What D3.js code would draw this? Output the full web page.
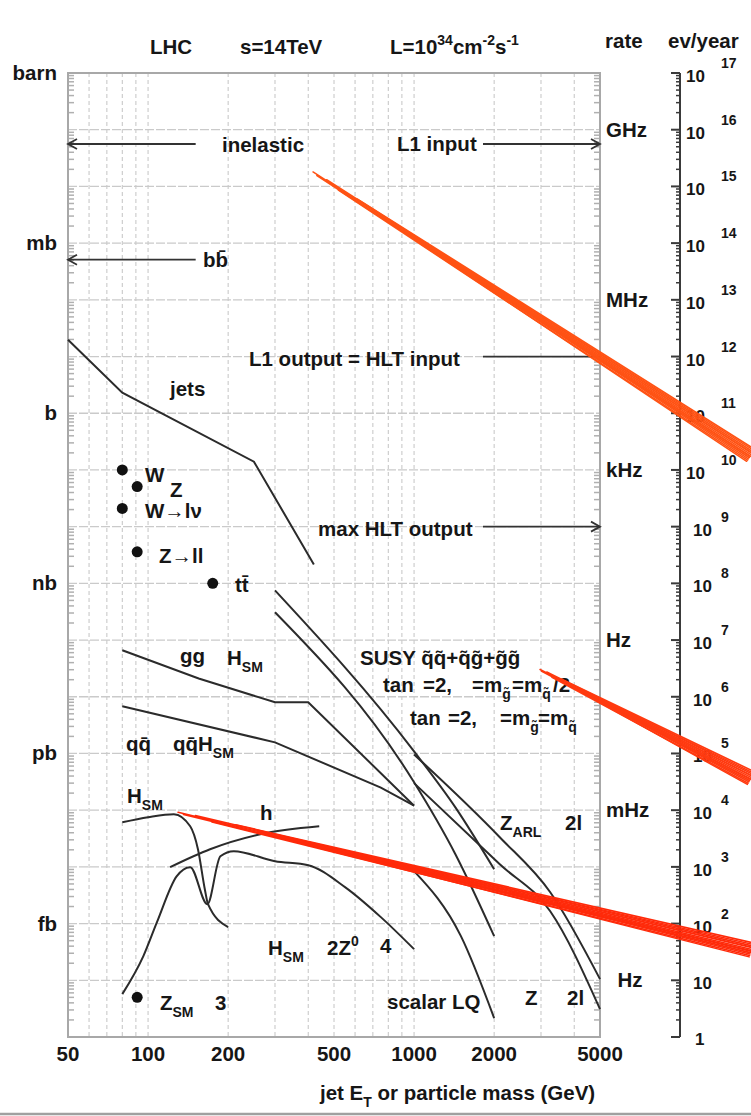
<!DOCTYPE html>
<html>
<head>
<meta charset="utf-8">
<script src="https://cdn.jsdelivr.net/npm/d3@7"></script>
<style>
  body { margin: 0; background: #fff; }
  svg text { font-family: "Liberation Sans", Arial, sans-serif; font-weight: bold; font-size: 20.5px; fill: #161616; }
</style>
</head>
<body>
<svg id="chart" width="751" height="1116"></svg>
<script>
// ---- axes: jet E_T / particle mass (GeV) vs cross section (fb) ----
const massTicks = [50, 100, 200, 500, 1000, 2000, 5000];
const crossUnits = [["barn", 1e15], ["mb", 1e12], ["b", 1e9], ["nb", 1e6], ["pb", 1e3], ["fb", 1]];
const rateUnits = [["GHz", 1e14], ["MHz", 1e11], ["kHz", 1e8], ["Hz", 1e5], ["mHz", 1e2], ["\u00a0\u00a0Hz", 1e-1]];
const evExponents = d3.range(0, 18);

// ---- cross-section curves: [mass GeV, sigma fb] ----
const jets      = [[50, 1.98e10], [80, 2.3e9], [250, 1.4e8], [420, 2.15e6]];
const ggHiggs   = [[80, 6.6e4], [155, 2.1e4], [300, 8.0e3], [400, 8.0e3], [1000, 1.2e2]];
const qqHiggs   = [[80, 6.8e3], [300, 1.57e3], [750, 2.5e2], [1000, 1.2e2]];
const susyHalf  = [[300, 7.5e5], [1000, 1.09e3], [1430, 1.12e2], [2000, 9.1]];
const susyEqual = [[300, 3.1e5], [1000, 3.1e2], [1430, 16.7], [2000, 0.60]];
const zArl2l    = [[1000, 9.6e2], [2100, 33.3], [3250, 3.57], [5000, 0.105]];
const zPrime2l  = [[1000, 3.0e2], [2100, 11.1], [3250, 1.65], [5000, 0.031]];
const scalarLQ  = [[1000, 8.4], [1500, 0.60], [2000, 0.0215]];
const hsmGamma  = [[80, 61], [100, 75], [125, 85], [144, 52], [154, 20.5], [163.5, 4.0], [168, 2.2], [200, 0.865]];
const hsm4l     = [[80, 0.057], [96, 0.267], [108, 1.06], [128, 6.8], [144, 9.9], [167, 2.2], [187, 15.4],
                   [210, 18.9], [300, 12.6], [400, 10.7], [550, 4.4], [750, 1.3], [1000, 0.354]];
const hMssm     = [[121, 9.9], [171, 20.5], [264, 37.6], [440, 52]];

// ---- single processes: [mass GeV, sigma fb] ----
const wBoson   = [80, 1.0e8];
const zBoson   = [91, 5.1e7];
const wLepton  = [80, 2.1e7];
const zLepton  = [91, 3.6e6];
const topPair  = [175, 1.0e6];
const zSm3     = [91, 0.05];

// ---- horizontal markers: [from GeV, to GeV, sigma fb, arrowhead] ----
const markers = [
  [151, 50, 5.6e13, true],     // inelastic
  [151, 50, 5.1e11, true],     // b b-bar
  [1816, 5000, 5.6e13, true],  // L1 input
  [1816, 5000, 1e10, false],   // L1 output = HLT input
  [1816, 5000, 1e7, true]      // max HLT output
];

// ---- hand-drawn trigger bands: [[GeV, fb], [GeV, fb]] ----
const bands = [
  [[417, 1.8e13], [18480, 1.86e8]],
  [[2976, 3.03e4], [18480, 379]],
  [[129.6, 91.8], [18480, 0.354]]
];
const bandColors = ["#ff5214", "#ff3a10", "#ff2a0a"];

const svg = d3.select("#chart");
const xSc = d3.scaleLog().domain([50, 5000]).range([68, 600]);
const ySc = d3.scaleLog().domain([1e-2, 1e15]).range([1037, 73]);
const evSc = d3.scaleLog().domain([1, 1e17]).range([1037, 73]);
const [xL, xR] = xSc.range();
const [yB, yT] = ySc.range();

// grid
const gGrid = svg.append("g");
gGrid.selectAll("line.v").data(xSc.ticks().filter(v => v > 50 && v < 5000)).join("line")
  .attr("x1", d => xSc(d)).attr("x2", d => xSc(d)).attr("y1", yT).attr("y2", yB)
  .attr("stroke", "#c4c4c4").attr("stroke-width", 1).attr("stroke-dasharray", "4,3");
gGrid.selectAll("line.h").data(d3.range(-1, 15).map(e => Math.pow(10, e))).join("line")
  .attr("x1", xL).attr("x2", xR).attr("y1", d => ySc(d)).attr("y2", d => ySc(d))
  .attr("stroke", "#cacaca").attr("stroke-width", 1.3).attr("stroke-dasharray", "9,2");

// minor ticks along left and right frame
const minorY = [];
d3.range(-2, 15).forEach(e => d3.range(2, 10).forEach(k => minorY.push(k * Math.pow(10, e))));
const gTicks = svg.append("g").attr("stroke", "#b0b0b0").attr("stroke-width", 1.5);
gTicks.selectAll("line.l").data(minorY).join("line")
  .attr("x1", xL).attr("x2", xL + 6).attr("y1", d => ySc(d)).attr("y2", d => ySc(d));
gTicks.selectAll("line.r").data(minorY).join("line")
  .attr("x1", xR - 6).attr("x2", xR).attr("y1", d => ySc(d)).attr("y2", d => ySc(d));

// frame
svg.append("rect").attr("x", xL).attr("y", yT).attr("width", xR - xL).attr("height", yB - yT)
  .attr("fill", "none").attr("stroke", "#a8a8a8").attr("stroke-width", 2);

// text helper: pieces are strings or [string, "sub"|"sup"]
function label(x, y, pieces, anchor) {
  const t = svg.append("text").attr("x", x).attr("y", y).attr("text-anchor", anchor || "start");
  let shift = 0;
  pieces.forEach(p => {
    const [s, k] = typeof p === "string" ? [p, "n"] : p;
    const target = k === "sub" ? 7 : k === "sup" ? -9 : 0;
    const ts = t.append("tspan").attr("dy", target - shift).text(s);
    if (k !== "n") ts.style("font-size", "14px");
    shift = target;
  });
  return t;
}

// header
label(150, 54, ["LHC"]);
label(240, 54, ["s=14TeV"]);
label(390, 54, ["L=10", ["34", "sup"], "cm", ["-2", "sup"], "s", ["-1", "sup"]]);
label(605, 48, ["rate"]);
label(668, 48, ["ev/year"]);

// left units
crossUnits.forEach(([s, v]) => label(57, ySc(v) + 7, [s], "end"));
// rate units
rateUnits.forEach(([s, v]) => label(606, ySc(v) + 7, [s]));

// bottom axis labels
massTicks.forEach(v => label(xSc(v), 1061, [String(v)], "middle"));
label(320, 1100, ["jet E", ["T", "sub"], " or particle mass (GeV)"]);

// events/year axis
const gEv = svg.append("g").attr("stroke", "#3a3a3a");
gEv.append("line").attr("x1", 680).attr("x2", 680).attr("y1", evSc(1e17)).attr("y2", evSc(1))
  .attr("stroke-width", 2);
gEv.selectAll("line.maj").data(evExponents).join("line")
  .attr("x1", 671).attr("x2", 680).attr("y1", e => evSc(Math.pow(10, e))).attr("y2", e => evSc(Math.pow(10, e)))
  .attr("stroke-width", 2);
const minorEv = [];
d3.range(0, 17).forEach(e => d3.range(2, 10).forEach(k => minorEv.push(k * Math.pow(10, e))));
gEv.selectAll("line.min").data(minorEv).join("line")
  .attr("x1", 676).attr("x2", 680).attr("y1", d => evSc(d)).attr("y2", d => evSc(d))
  .attr("stroke-width", 1.5);
evExponents.forEach(e => {
  const y = evSc(Math.pow(10, e));
  if (e === 0) { label(695, y + 8, ["1"]).style("font-size", "17px"); return; }
  label(e >= 10 ? 705 : 712, y + 9, ["10"], "end").style("font-size", "17px");
  if (e > 1) label(721, y - 5, [String(e)]).style("font-size", "14px");
});

// curves
const line = d3.line().x(d => xSc(d[0])).y(d => ySc(d[1]));
const smooth = d3.line().x(d => xSc(d[0])).y(d => ySc(d[1])).curve(d3.curveMonotoneX);
const gCurves = svg.append("g").attr("fill", "none").attr("stroke", "#2b2b2b").attr("stroke-width", 2);
[jets, ggHiggs, qqHiggs].forEach(s => gCurves.append("path").attr("d", line(s)));
[susyHalf, susyEqual, zArl2l, zPrime2l, scalarLQ, hsmGamma, hsm4l, hMssm]
  .forEach(s => gCurves.append("path").attr("d", smooth(s)));

// process dots
svg.append("g").selectAll("circle").data([wBoson, zBoson, wLepton, zLepton, topPair, zSm3]).join("circle")
  .attr("cx", d => xSc(d[0])).attr("cy", d => ySc(d[1])).attr("r", 5.5).attr("fill", "#111");

// horizontal markers with arrowheads
const gMark = svg.append("g").attr("stroke", "#333").attr("stroke-width", 1.8).attr("fill", "none");
markers.forEach(([a, b, s, head]) => {
  const x1 = xSc(a), x2 = xSc(b), y = ySc(s);
  gMark.append("line").attr("x1", x1).attr("x2", x2).attr("y1", y).attr("y2", y);
  if (head) {
    const dir = x2 > x1 ? -1 : 1;
    gMark.append("polyline").attr("points", [[x2 + dir * 9, y - 5], [x2, y], [x2 + dir * 9, y + 5]].join(" "));
  }
});

// annotation text
label(222, 152, ["inelastic"]);
label(397, 151, ["L1 input"]);
label(203, 267, ["bb\u0304"]);
label(249, 366, ["L1 output = HLT input"]);
label(318, 536, ["max HLT output"]);
label(170, 396, ["jets"]);
label(145, 482, ["W"]);
label(170, 497, ["Z"]);
label(145, 518, ["W\u2192l\u03bd"]);
label(159, 563, ["Z\u2192ll"]);
label(235, 592, ["tt\u0304"]);
label(180, 663, ["gg"]);
label(227, 665, ["H", ["SM", "sub"]]);
label(126, 751, ["qq\u0304"]);
label(173, 751, ["qq\u0304H", ["SM", "sub"]]);
label(127, 803, ["H", ["SM", "sub"]]);
label(260, 820, ["h"]);
label(360, 665, ["SUSY q\u0303q\u0303+q\u0303g\u0303+g\u0303g\u0303"]);
// tan(beta) lines
label(383, 692, ["tan"]); label(423, 692, ["=2,"]);
label(472, 692, ["=m", ["g\u0303", "sub"]]); label(512, 692, ["=m", ["q\u0303", "sub"]]); label(553, 692, ["/2"]);
label(410, 725, ["tan"]); label(448, 725, ["=2,"]);
label(500, 725, ["=m", ["g\u0303", "sub"]]); label(538, 725, ["=m", ["q\u0303", "sub"]]);
label(500, 830, ["Z", ["ARL", "sub"]]);
label(565, 830, ["2l"]);
label(268, 955, ["H", ["SM", "sub"]]);
label(327, 955, ["2Z", ["0", "sup"]]);
label(380, 953, ["4"]);
label(387, 1009, ["scalar LQ"]);
label(525, 1005, ["Z"]);
label(567, 1005, ["2l"]);
label(160, 1010, ["Z", ["SM", "sub"]]);
label(215, 1010, ["3"]);

// hand-drawn trigger bands: several loose strands per band
const strands = [
  { t0: 0.00, o0: 0.0, o1: 0.0, w: 1.5 },
  { t0: 0.01, o0: 0.8, o1: 3.5, w: 1.8 },
  { t0: 0.03, o0: -0.8, o1: -3.5, w: 1.6 },
  { t0: 0.06, o0: 1.5, o1: 6.5, w: 1.7 },
  { t0: 0.10, o0: -1.2, o1: -6.5, w: 1.7 },
  { t0: 0.14, o0: 0.5, o1: 1.8, w: 2.2 },
  { t0: 0.18, o0: -0.3, o1: -1.8, w: 2.0 },
  { t0: 0.22, o0: 1.0, o1: 5.0, w: 1.6 },
  { t0: 0.25, o0: 2.0, o1: 8.0, w: 1.4 },
  { t0: 0.30, o0: -1.5, o1: -5.0, w: 1.5 }
];
const gBands = svg.append("g").attr("fill", "none").attr("stroke-linecap", "round");
bands.forEach(([p, q], i) => {
  const ax = xSc(p[0]), ay = ySc(p[1]), bx = xSc(q[0]), by = ySc(q[1]);
  const len = Math.hypot(bx - ax, by - ay), nx = -(by - ay) / len, ny = (bx - ax) / len;
  strands.forEach(s => {
    const sx = ax + (bx - ax) * s.t0, sy = ay + (by - ay) * s.t0;
    gBands.append("line")
      .attr("x1", sx + nx * s.o0).attr("y1", sy + ny * s.o0)
      .attr("x2", bx + nx * s.o1).attr("y2", by + ny * s.o1)
      .attr("stroke", bandColors[i]).attr("stroke-width", s.w);
  });
});

// bottom rule
svg.append("line").attr("x1", 0).attr("x2", 751).attr("y1", 1114).attr("y2", 1114)
  .attr("stroke", "#a0a0a0").attr("stroke-width", 2.5);
</script>
</body>
</html>
